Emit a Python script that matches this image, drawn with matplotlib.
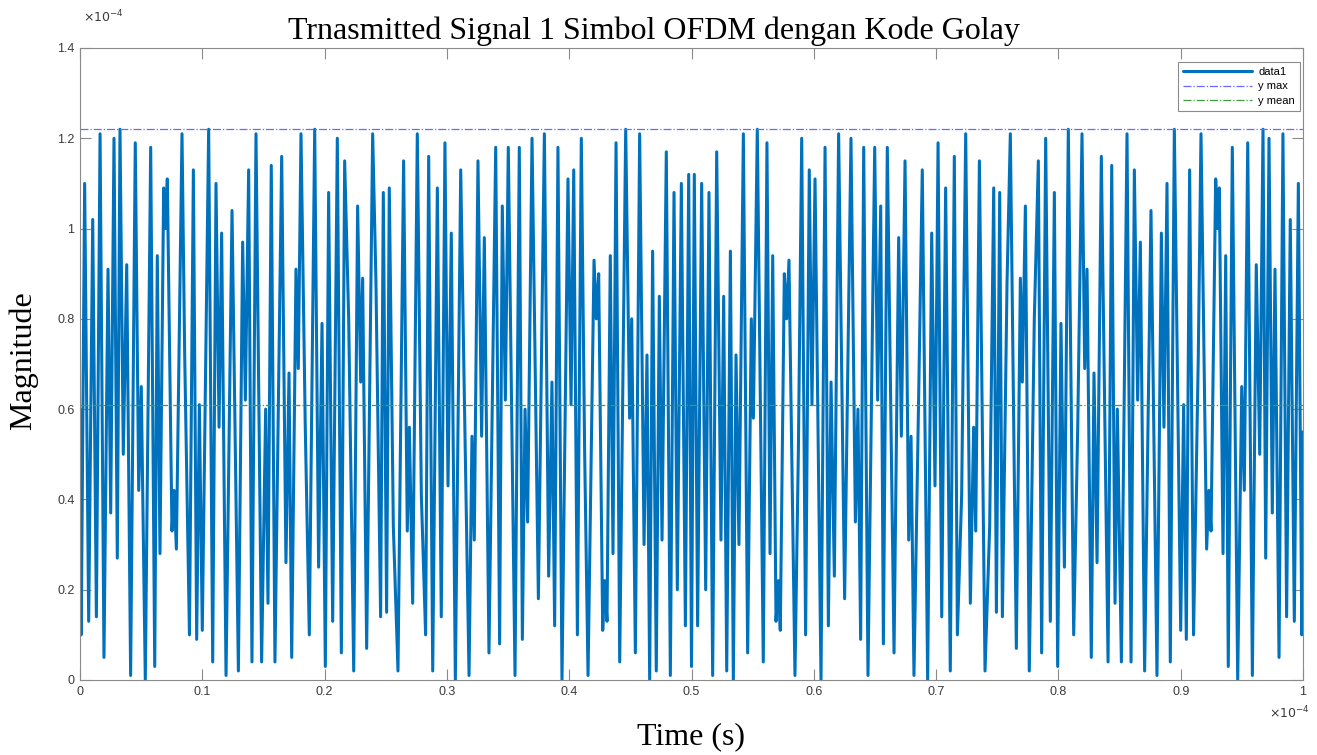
import matplotlib
matplotlib.use("Agg")
import matplotlib.pyplot as plt
import numpy as np
from matplotlib.ticker import FuncFormatter

# |x(t)| of one OFDM symbol, times and magnitudes both in units of 1e-4
t_first_half = [
    0.0000, 0.0010, 0.0038, 0.0071, 0.0104, 0.0134, 0.0164, 0.0196, 0.0229, 0.0251,
    0.0278, 0.0305, 0.0327, 0.0354, 0.0382, 0.0414, 0.0452, 0.0480, 0.0501, 0.0534,
    0.0578, 0.0611, 0.0632, 0.0654, 0.0684, 0.0698, 0.0714, 0.0752, 0.0769, 0.0788,
    0.0834, 0.0856, 0.0895, 0.0927, 0.0954, 0.0976, 0.1000, 0.1052, 0.1085, 0.1112,
    0.1137, 0.1158, 0.1194, 0.1243, 0.1295, 0.1330, 0.1352, 0.1379, 0.1406, 0.1439,
    0.1485, 0.1518, 0.1537, 0.1564, 0.1594, 0.1649, 0.1684, 0.1709, 0.1731, 0.1766,
    0.1785, 0.1807, 0.1842, 0.1875, 0.1919, 0.1951, 0.1979, 0.2006, 0.2033, 0.2066,
    0.2104, 0.2137, 0.2164, 0.2197, 0.2238, 0.2270, 0.2295, 0.2311, 0.2344, 0.2393,
    0.2420, 0.2458, 0.2480, 0.2507, 0.2529, 0.2562, 0.2600, 0.2646, 0.2676, 0.2693,
    0.2720, 0.2758, 0.2791, 0.2826, 0.2851, 0.2884, 0.2922, 0.2954, 0.2984, 0.3009,
    0.3036, 0.3069, 0.3113, 0.3140, 0.3181, 0.3205, 0.3224, 0.3254, 0.3284, 0.3306,
    0.3344, 0.3399, 0.3431, 0.3453, 0.3478, 0.3502, 0.3557, 0.3592, 0.3617, 0.3639,
    0.3660, 0.3696, 0.3748, 0.3797, 0.3832, 0.3859, 0.3881, 0.3908, 0.3941, 0.3990,
    0.4015, 0.4037, 0.4067, 0.4099, 0.4126, 0.4154, 0.4203, 0.4222, 0.4241, 0.4274,
    0.4290, 0.4309, 0.4336, 0.4358, 0.4383, 0.4413, 0.4462, 0.4494, 0.4511, 0.4541,
    0.4576, 0.4612, 0.4636, 0.4658, 0.4682, 0.4712, 0.4737, 0.4759, 0.4794, 0.4827,
    0.4857, 0.4884, 0.4917, 0.4950, 0.4977,
]
mag_first_half = [
    0.60, 0.10, 1.10, 0.13, 1.02, 0.14, 1.21, 0.05, 0.91, 0.37,
    1.20, 0.27, 1.22, 0.50, 0.92, 0.01, 1.19, 0.42, 0.65, 0.00,
    1.18, 0.03, 0.94, 0.28, 1.09, 1.00, 1.11, 0.33, 0.42, 0.29,
    1.21, 0.72, 0.10, 1.13, 0.09, 0.61, 0.11, 1.22, 0.04, 1.10,
    0.56, 0.99, 0.01, 1.04, 0.02, 0.97, 0.62, 1.13, 0.04, 1.21,
    0.04, 0.60, 0.17, 1.14, 0.04, 1.16, 0.26, 0.68, 0.05, 0.91,
    0.69, 1.21, 0.56, 0.10, 1.22, 0.25, 0.79, 0.03, 1.08, 0.13,
    1.20, 0.06, 1.15, 0.80, 0.02, 1.05, 0.66, 0.89, 0.07, 1.21,
    0.88, 0.14, 1.08, 0.15, 1.09, 0.34, 0.02, 1.15, 0.33, 0.56,
    0.17, 1.21, 0.41, 0.10, 1.16, 0.02, 1.09, 0.14, 1.19, 0.43,
    0.99, 0.00, 1.13, 0.67, 0.01, 0.54, 0.31, 1.15, 0.54, 0.98,
    0.06, 1.18, 0.08, 1.05, 0.62, 1.18, 0.01, 1.18, 0.09, 0.60,
    0.35, 1.20, 0.18, 1.21, 0.23, 0.66, 0.12, 1.18, 0.00, 1.11,
    0.61, 1.13, 0.10, 1.20, 0.51, 0.01, 0.93, 0.80, 0.90, 0.11,
    0.22, 0.13, 0.94, 0.28, 1.19, 0.04, 1.22, 0.58, 0.80, 0.06,
    1.21, 0.30, 0.72, 0.00, 0.95, 0.02, 0.85, 0.31, 1.17, 0.01,
    1.08, 0.20, 1.10, 0.12, 1.12,
]
t_middle = [0.5000]
mag_middle = [0.03]
t_second_half = [
    0.5023, 0.5050, 0.5083, 0.5116, 0.5143, 0.5173, 0.5206, 0.5241, 0.5263, 0.5288,
    0.5318, 0.5342, 0.5364, 0.5388, 0.5424, 0.5459, 0.5489, 0.5506, 0.5538, 0.5587,
    0.5617, 0.5642, 0.5664, 0.5691, 0.5710, 0.5726, 0.5759, 0.5778, 0.5797, 0.5846,
    0.5874, 0.5901, 0.5933, 0.5963, 0.5985, 0.6010, 0.6059, 0.6092, 0.6119, 0.6141,
    0.6168, 0.6203, 0.6252, 0.6304, 0.6340, 0.6361, 0.6383, 0.6408, 0.6443, 0.6498,
    0.6522, 0.6547, 0.6569, 0.6601, 0.6656, 0.6694, 0.6716, 0.6746, 0.6776, 0.6795,
    0.6819, 0.6860, 0.6887, 0.6931, 0.6964, 0.6991, 0.7016, 0.7046, 0.7078, 0.7116,
    0.7149, 0.7174, 0.7209, 0.7242, 0.7280, 0.7307, 0.7324, 0.7354, 0.7400, 0.7438,
    0.7471, 0.7493, 0.7520, 0.7542, 0.7580, 0.7607, 0.7656, 0.7689, 0.7705, 0.7730,
    0.7762, 0.7803, 0.7836, 0.7863, 0.7896, 0.7934, 0.7967, 0.7994, 0.8021, 0.8049,
    0.8081, 0.8125, 0.8158, 0.8193, 0.8215, 0.8234, 0.8269, 0.8291, 0.8316, 0.8351,
    0.8406, 0.8436, 0.8463, 0.8482, 0.8515, 0.8561, 0.8594, 0.8621, 0.8648, 0.8670,
    0.8705, 0.8757, 0.8806, 0.8842, 0.8863, 0.8888, 0.8915, 0.8948, 0.9000, 0.9024,
    0.9046, 0.9073, 0.9105, 0.9144, 0.9166, 0.9212, 0.9231, 0.9248, 0.9286, 0.9302,
    0.9316, 0.9346, 0.9368, 0.9389, 0.9422, 0.9466, 0.9499, 0.9520, 0.9548, 0.9586,
    0.9618, 0.9646, 0.9673, 0.9695, 0.9722, 0.9749, 0.9771, 0.9804, 0.9836, 0.9866,
    0.9896, 0.9929, 0.9962, 0.9990, 1.0000,
]
mag_second_half = [
    1.12, 0.12, 1.10, 0.20, 1.08, 0.01, 1.17, 0.31, 0.85, 0.02,
    0.95, 0.00, 0.72, 0.30, 1.21, 0.06, 0.80, 0.58, 1.22, 0.04,
    1.19, 0.28, 0.94, 0.13, 0.22, 0.11, 0.90, 0.80, 0.93, 0.01,
    0.51, 1.20, 0.10, 1.13, 0.61, 1.11, 0.00, 1.18, 0.12, 0.66,
    0.23, 1.21, 0.18, 1.20, 0.35, 0.60, 0.09, 1.18, 0.01, 1.18,
    0.62, 1.05, 0.08, 1.18, 0.06, 0.98, 0.54, 1.15, 0.31, 0.54,
    0.01, 0.67, 1.13, 0.00, 0.99, 0.43, 1.19, 0.14, 1.09, 0.02,
    1.16, 0.10, 0.41, 1.21, 0.17, 0.56, 0.33, 1.15, 0.02, 0.34,
    1.09, 0.15, 1.08, 0.14, 0.88, 1.21, 0.07, 0.89, 0.66, 1.05,
    0.02, 0.80, 1.15, 0.06, 1.20, 0.13, 1.08, 0.03, 0.79, 0.25,
    1.22, 0.10, 0.56, 1.21, 0.69, 0.91, 0.05, 0.68, 0.26, 1.16,
    0.04, 1.14, 0.17, 0.60, 0.04, 1.21, 0.04, 1.13, 0.62, 0.97,
    0.02, 1.04, 0.01, 0.99, 0.56, 1.10, 0.04, 1.22, 0.11, 0.61,
    0.09, 1.13, 0.10, 0.72, 1.21, 0.29, 0.42, 0.33, 1.11, 1.00,
    1.09, 0.28, 0.94, 0.03, 1.18, 0.00, 0.65, 0.42, 1.19, 0.01,
    0.92, 0.50, 1.22, 0.27, 1.20, 0.37, 0.91, 0.05, 1.21, 0.14,
    1.02, 0.13, 1.10, 0.10, 0.55,
]

y_max = 1.22
y_mean = 0.61

x_ticks = [0, 0.1, 0.2, 0.3, 0.4, 0.5, 0.6, 0.7, 0.8, 0.9, 1]
y_ticks = [0, 0.2, 0.4, 0.6, 0.8, 1, 1.2, 1.4]

t = np.array(t_first_half + t_middle + t_second_half)
mag = np.array(mag_first_half + mag_middle + mag_second_half)

fig = plt.figure(figsize=(13.17, 7.55), dpi=100)
ax = fig.add_axes([80 / 1317, 1 - 680 / 755, 1223 / 1317, 632 / 755])

ax.plot(t, mag, color='#0072BD', lw=2.2, label='data1',
        solid_joinstyle='round', solid_capstyle='round')
ax.axhline(y_max, color='#6a6aff', lw=0.9, ls='-.', label='y max')
ax.axhline(y_mean, color='#3f9f3f', lw=0.9, ls='-.', label='y mean')

ax.set_xlim(0, 1)
ax.set_ylim(0, 1.4)
ax.set_xticks(x_ticks)
ax.set_yticks(y_ticks)
fmt = FuncFormatter(lambda v, p: '%g' % round(v, 2))
ax.xaxis.set_major_formatter(fmt)
ax.yaxis.set_major_formatter(fmt)
ax.tick_params(direction='in', length=8, width=0.8, color='#8a8a8a',
               labelsize=9, labelcolor='#3a3a3a', pad=4,
               top=True, right=True)
for lab in ax.get_xticklabels() + ax.get_yticklabels():
    lab.set_family('Liberation Sans')
for s in ax.spines.values():
    s.set_color('#8a8a8a')
    s.set_linewidth(0.8)

# exponent labels in the MATLAB style
fig.text(83 / 1317, 1 - 22 / 755, r'$\times10^{-4}$', fontsize=9,
         color='#3a3a3a', family='Liberation Sans')
fig.text(1310 / 1317, 1 - 718 / 755, r'$\times10^{-4}$', fontsize=9,
         color='#3a3a3a', ha='right', family='Liberation Sans')

leg = ax.legend(loc='upper right', bbox_to_anchor=(1300 / 1317, 1 - 62 / 755),
                bbox_transform=fig.transFigure, borderaxespad=0,
                handlelength=6.2, handletextpad=0.6,
                labelspacing=0.4, borderpad=0.45, fancybox=False,
                framealpha=1, edgecolor='#8a8a8a',
                prop={'family': 'Liberation Sans', 'size': 8})
leg.get_frame().set_linewidth(0.8)

fig.text(654 / 1317, 1 - 39 / 755, 'Trnasmitted Signal 1 Simbol OFDM dengan Kode Golay',
         family='Liberation Serif', fontsize=23, ha='center', va='baseline')
fig.text(23 / 1317, 1 - 361 / 755, 'Magnitude', family='Liberation Serif',
         fontsize=23, rotation=90, ha='center', va='center')
fig.text(691 / 1317, 1 - 737 / 755, 'Time (s)', family='Liberation Serif',
         fontsize=23, ha='center', va='center')

fig.savefig('out.png', dpi=100)
